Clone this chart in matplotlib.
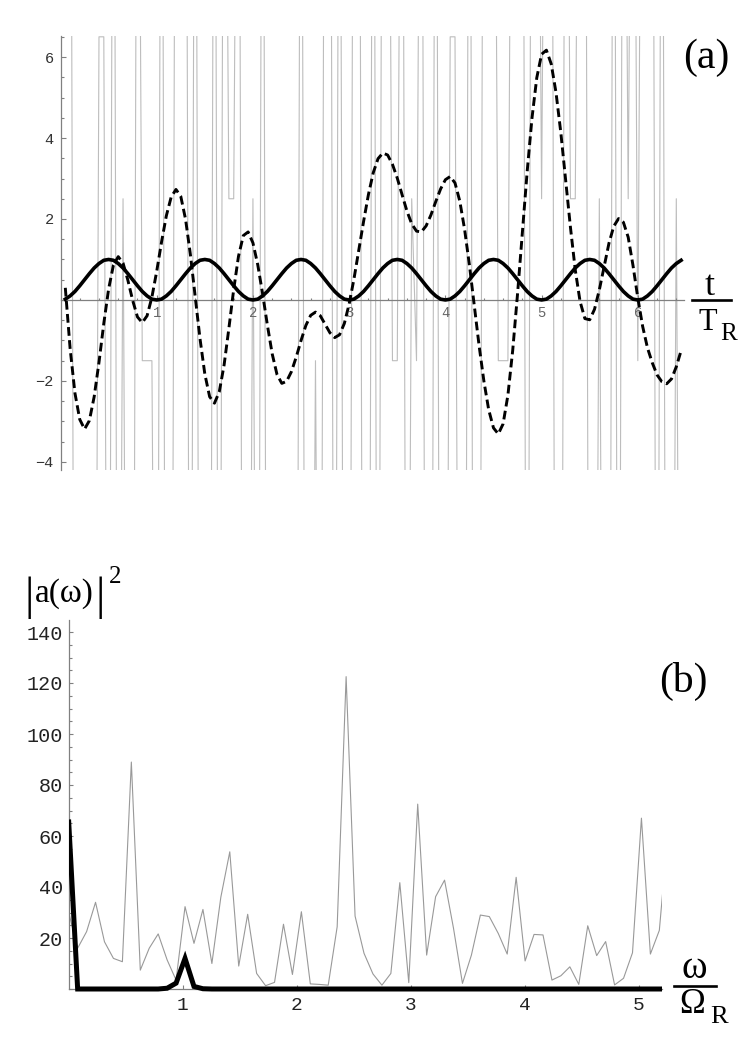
import numpy as np
import matplotlib.pyplot as plt
from matplotlib.lines import Line2D
from matplotlib.ticker import FixedLocator, MultipleLocator

W, H = 750, 1039
MONO = 'Liberation Mono'
SERIF = 'Liberation Serif'

# ---- panel (a): signals sampled every dt (units of T_R), starting at dt ----
dt = 0.05
solid_a = [
    0.02, 0.10, 0.21, 0.35, 0.50, 0.65, 0.79, 0.90, 0.98, 1.00,
    0.98, 0.90, 0.79, 0.65, 0.50, 0.35, 0.21, 0.10, 0.02, 0.00,
    0.02, 0.10, 0.21, 0.35, 0.50, 0.65, 0.79, 0.90, 0.98, 1.00,
    0.98, 0.90, 0.79, 0.65, 0.50, 0.35, 0.21, 0.10, 0.02, 0.00,
    0.02, 0.10, 0.21, 0.35, 0.50, 0.65, 0.79, 0.90, 0.98, 1.00,
    0.98, 0.90, 0.79, 0.65, 0.50, 0.35, 0.21, 0.10, 0.02, 0.00,
    0.02, 0.10, 0.21, 0.35, 0.50, 0.65, 0.79, 0.90, 0.98, 1.00,
    0.98, 0.90, 0.79, 0.65, 0.50, 0.35, 0.21, 0.10, 0.02, 0.00,
    0.02, 0.10, 0.21, 0.35, 0.50, 0.65, 0.79, 0.90, 0.98, 1.00,
    0.98, 0.90, 0.79, 0.65, 0.50, 0.35, 0.21, 0.10, 0.02, 0.00,
    0.02, 0.10, 0.21, 0.35, 0.50, 0.65, 0.79, 0.90, 0.98, 1.00,
    0.98, 0.90, 0.79, 0.65, 0.50, 0.35, 0.21, 0.10, 0.02, 0.00,
    0.02, 0.10, 0.21, 0.35, 0.50, 0.65, 0.79, 0.90, 0.98,
]
dashed_a = [
    0.30, -1.20, -2.30, -2.95, -3.19, -2.98, -2.39, -1.54, -0.58, 0.27,
    0.86, 1.07, 0.91, 0.49, -0.01, -0.42, -0.56, -0.39, 0.07, 0.71,
    1.43, 2.08, 2.54, 2.73, 2.56, 1.99, 1.12, 0.09, -0.96, -1.83,
    -2.39, -2.55, -2.27, -1.61, -0.70, 0.26, 1.08, 1.59, 1.68, 1.41,
    0.87, 0.16, -0.62, -1.33, -1.84, -2.06, -2.01, -1.77, -1.41, -1.00,
    -0.63, -0.38, -0.30, -0.39, -0.60, -0.81, -0.93, -0.86, -0.58, -0.10,
    0.52, 1.23, 1.94, 2.60, 3.14, 3.49, 3.63, 3.58, 3.35, 3.01,
    2.60, 2.20, 1.88, 1.70, 1.68, 1.83, 2.10, 2.43, 2.74, 2.97,
    3.05, 2.89, 2.44, 1.74, 0.86, -0.13, -1.12, -2.00, -2.71, -3.16,
    -3.31, -3.06, -2.35, -1.24, 0.15, 1.67, 3.17, 4.49, 5.49, 6.07,
    6.17, 5.83, 5.12, 4.13, 2.96, 1.79, 0.74, -0.04, -0.46, -0.49,
    -0.23, 0.25, 0.83, 1.40, 1.82, 2.01, 1.92, 1.55, 0.85, 0.05,
    -0.65, -1.18, -1.55, -1.85, -2.02, -2.07, -1.95, -1.65, -1.25,
]
# the grey signal mostly jumps far outside the plotted range
gray_a = [
    20, 20, -20, -20, -20, -20, -20, 6.5, 6.5, -20,
    20, -20, 2.5, -20, -20, 20, -1.5, -1.5, -1.5, -20,
    20, -20, -20, 20, 20, 20, -20, 20, -20, -20,
    -20, 20, -20, 20, 2.5, 2.5, 20, -20, -20, 2.5,
    -20, 20, -20, -20, -20, -20, -20, -20, -20, 20,
    -20, -20, -1.5, -20, 20, 20, -20, 20, -20, -20,
    20, 20, -20, -20, 20, -20, 20, 20, -1.5, -1.5,
    20, -20, 2.5, -1.5, 20, -20, -20, 20, -20, -20,
    6.5, 6.5, -20, -20, 20, -20, -20, 20, 20, 20,
    -1.5, -1.5, -1.5, 20, 20, 20, -20, 20, 20, 2.5,
    20, 20, -20, -20, 20, 2.5, 2.5, 20, 20, -20,
    -20, 2.5, -20, -20, 20, -20, 20, 2.5, 20, -1.5,
    20, 20, 20, -20, 20, -20, -20, 2.5, -20,
]
t_a = dt * np.arange(1, len(solid_a) + 1)

# ---- panel (b): spectra |a(omega)|^2, spacing d_omega (units of Omega_R) --
d_omega = 0.0785
spec_gray = [
    30, 16, 22.5, 34, 18.5, 12, 10.7, 89, 7.4, 16,
    21.6, 11.4, 3.5, 32.3, 17.9, 31.2, 10, 36, 53.8, 9,
    29.3, 6.1, 1.3, 2.6, 25.4, 5.7, 30.3, 2, 1.8, 1.5,
    24.4, 122.5, 28.6, 14, 5.9, 1.5, 6.1, 41.7, 2.5, 72.5,
    13.3, 36.2, 42.7, 23.8, 2.2, 13.3, 29, 28.4, 21.8, 13.7,
    43.8, 11, 21.4, 21.2, 3.5, 5.2, 8.7, 1.8, 24.8, 13.1,
    18.6, 1.6, 4.2, 14.2, 67, 13.7, 23, 63,
]
spec_black = [
    65.5, 0, 0, 0, 0, 0, 0, 0, 0, 0,
    0, 0.3, 2.3, 12, 1.0, 0.1, 0, 0, 0, 0,
    0, 0, 0, 0, 0, 0, 0, 0, 0, 0,
    0, 0, 0, 0, 0, 0, 0, 0, 0, 0,
    0, 0, 0, 0, 0, 0, 0, 0, 0, 0,
    0, 0, 0, 0, 0, 0, 0, 0, 0, 0,
    0, 0, 0, 0, 0, 0, 0, 0,
]
omega = d_omega * np.arange(len(spec_gray))


def px_rect(x0, y0, x1, y1):
    # pixel box (top-left origin) -> figure fraction rect
    return [x0 / W, 1 - y1 / H, (x1 - x0) / W, (y1 - y0) / H]


def ftext(x, y, s, **kw):
    kw.setdefault('ha', 'center')
    kw.setdefault('va', 'baseline')
    fig.text(x / W, 1 - y / H, s, **kw)


def fbar(x0, x1, y, lw=1.9):
    fig.add_artist(Line2D([x0 / W, x1 / W], [1 - y / H, 1 - y / H],
                          transform=fig.transFigure, color='black', lw=lw))


fig = plt.figure(figsize=(W / 100, H / 100), dpi=100)

# ==========================================================================
# (a)
# ==========================================================================
axa = fig.add_axes(px_rect(60.5, 36, 684, 470))
axa.plot(t_a, gray_a, color='#bdbdbd', lw=0.8, zorder=1)
axa.plot(t_a, solid_a, color='black', lw=2.6, zorder=3)
axa.plot(t_a, dashed_a, color='black', lw=2.1, ls=(0, (3.0, 1.5)), zorder=4)
axa.set_xlim(0, 6.48)
axa.set_ylim(-4.2, 6.52)

for side in ('top', 'right'):
    axa.spines[side].set_visible(False)
axa.spines['bottom'].set_position(('data', 0))
for side in ('left', 'bottom'):
    axa.spines[side].set_color('#808080')
    axa.spines[side].set_linewidth(0.9)
axa.spines['bottom'].set_zorder(2)

axa.xaxis.set_major_locator(FixedLocator([1, 2, 3, 4, 5, 6]))
axa.xaxis.set_minor_locator(MultipleLocator(0.2))
axa.yaxis.set_major_locator(FixedLocator([-4, -2, 2, 4, 6]))
axa.yaxis.set_minor_locator(MultipleLocator(0.5))
axa.tick_params(which='both', direction='in', color='#808080', width=0.8)
axa.tick_params(which='major', length=3.5)
axa.tick_params(which='minor', length=1.8)
axa.tick_params(axis='x', labelsize=10, labelcolor='#666666', pad=4)
axa.tick_params(axis='y', labelsize=11, labelcolor='#333333', pad=5)
for lab in axa.get_xticklabels() + axa.get_yticklabels():
    lab.set_family(MONO)

ftext(706, 68, '(a)', family=SERIF, fontsize=30)
ftext(710, 295, 't', family=SERIF, fontsize=26)
fbar(692, 731, 299.5)
ftext(708, 330, 'T', family=SERIF, fontsize=22)
ftext(729, 340, 'R', family=SERIF, fontsize=18)

# ==========================================================================
# (b)
# ==========================================================================
y_px = 2.55  # pixels per unit of |a|^2
axb = fig.add_axes(px_rect(68.7, 620, 662.3, 989 + 1.5 * y_px))
axb.plot(omega, spec_gray, color='#999999', lw=0.8, zorder=1)
axb.plot(omega, spec_black, color='black', lw=3.6, zorder=3,
         solid_joinstyle='miter')
axb.set_xlim(0, 5.207)
axb.set_ylim(-1.5, (989 - 620) / y_px)

for side in ('top', 'right'):
    axb.spines[side].set_visible(False)
axb.spines['bottom'].set_position(('data', 0))
for side in ('left', 'bottom'):
    axb.spines[side].set_color('#808080')
    axb.spines[side].set_linewidth(0.9)
axb.spines['left'].set_bounds(0, (989 - 620) / y_px)

axb.xaxis.set_major_locator(FixedLocator([1, 2, 3, 4, 5]))
axb.yaxis.set_major_locator(FixedLocator([20, 40, 60, 80, 100, 120, 140]))
axb.yaxis.set_minor_locator(MultipleLocator(5))
axb.tick_params(which='both', direction='in', color='#808080', width=0.8)
axb.tick_params(which='major', length=3)
axb.tick_params(which='minor', length=1.8)
axb.tick_params(axis='x', labelsize=14, labelcolor='#222222', pad=6)
axb.tick_params(axis='y', labelsize=14.5, labelcolor='#222222', pad=4)
for lab in axb.get_xticklabels() + axb.get_yticklabels():
    lab.set_family(MONO)

ftext(683, 692, '(b)', family=SERIF, fontsize=30)

ftext(29, 609, '|', family=SERIF, fontsize=34)
ftext(64, 602, 'a(ω)', family=SERIF, fontsize=24)
ftext(100, 609, '|', family=SERIF, fontsize=34)
ftext(115, 583, '2', family=SERIF, fontsize=18)

ftext(694, 978, 'ω', family=SERIF, fontsize=28)
fbar(674, 716, 986)
ftext(692, 1013, 'Ω', family=SERIF, fontsize=25)
ftext(719, 1023, 'R', family=SERIF, fontsize=19)

fig.savefig('out.png', dpi=100)
